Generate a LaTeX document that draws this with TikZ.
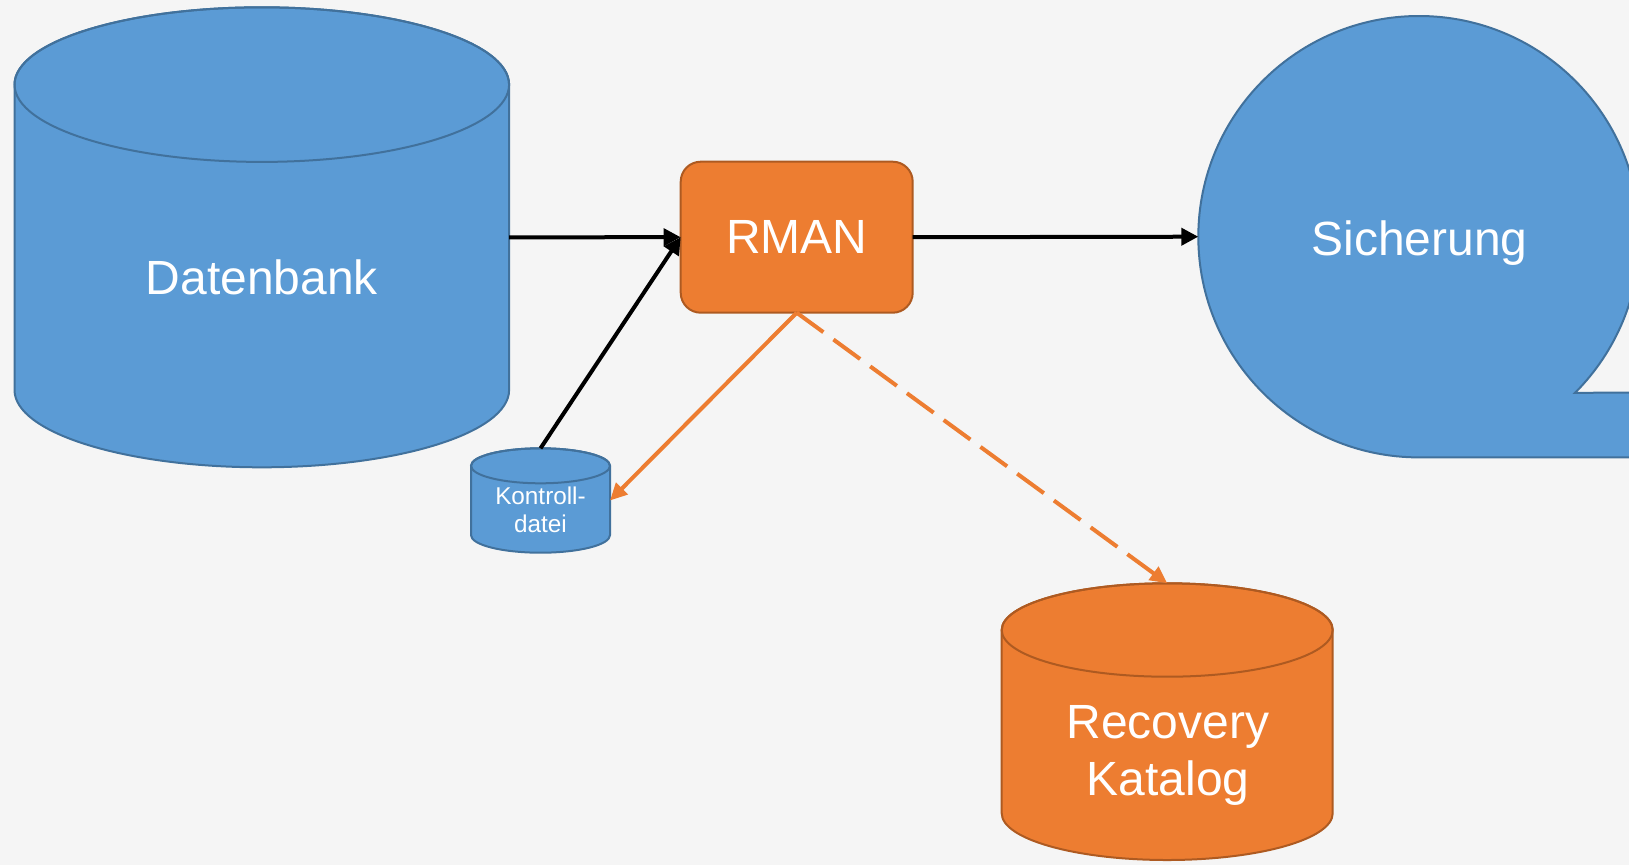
\documentclass[tikz,border=0pt]{standalone}
\usepackage{fontspec}
\setmainfont{Liberation Sans}
\usetikzlibrary{arrows.meta}
\definecolor{bgcol}{HTML}{F5F5F5}
\definecolor{dbblue}{HTML}{5B9BD5}
\definecolor{dbline}{HTML}{41719C}
\definecolor{rmorange}{HTML}{ED7D31}
\definecolor{rmline}{HTML}{AE5A21}
\newcommand{\mycyl}[6]{%
  \path[#6] (#1-#4,#3) arc[start angle=180,end angle=0,x radius=#4,y radius=#5]
     -- (#1+#4,#2) arc[start angle=0,end angle=-180,x radius=#4,y radius=#5] -- cycle;
  \draw[#6, fill=none] (#1,#2) ellipse[x radius=#4, y radius=#5];
}
\tikzset{
  bluefill/.style={fill=dbblue, draw=dbline, line width=2pt},
  orangefill/.style={fill=rmorange, draw=rmline, line width=2pt},
  anchorbox/.style={draw=none, fill=none, inner sep=0pt, outer sep=0pt},
  bigtext/.style={text=white, font=\fontsize{48}{57}\selectfont, anchor=base, inner sep=0pt},
  smalltext/.style={text=white, font=\fontsize{24.3}{29}\selectfont, anchor=base, inner sep=0pt},
  blackarrow/.style={draw=black, line width=4pt, -{Triangle[length=17pt,width=17pt]}},
  orangearrow/.style={draw=rmorange, line width=4pt, -{Triangle[length=17pt,width=16pt]}},
}
\begin{document}
\begin{tikzpicture}[x=1pt,y=-1pt]
\useasboundingbox (0,0) rectangle (1629,865);
\fill[bgcol] (0,0) rectangle (1629,865);
\clip (0,0) rectangle (1629,865);

% Datenbank cylinder
\mycyl{261.8}{84.6}{390}{247.3}{77.3}{bluefill}
\node[anchorbox, minimum width=494.6pt, minimum height=460pt] (db) at (261.8,237.3) {};
\node[bigtext] (dbtext) at (261.8,294) {Datenbank};

% Kontrolldatei cylinder
\mycyl{540.5}{465.8}{535.2}{69.5}{17.5}{bluefill}
\node[anchorbox, minimum width=139pt, minimum height=104.4pt] (kd) at (540.5,500.5) {};
\node[smalltext] (kdtext1) at (540.5,504) {Kontroll-};
\node[smalltext] (kdtext2) at (540.5,532.7) {datei};

% Recovery Katalog cylinder
\mycyl{1167.2}{630}{813.3}{165.5}{46.7}{orangefill}
\node[anchorbox, minimum width=331pt, minimum height=276.7pt] (rc) at (1167.2,721.6) {};
\node[bigtext] (rctext1) at (1168,738) {Recovery};
\node[bigtext] (rctext2) at (1168,795) {Katalog};

% Sicherung (magnetic tape)
\path[bluefill] (1419,457.4) arc[start angle=90, end angle=405, radius=220.7]
   -- (1639.7,392.7) -- (1639.7,457.4) -- cycle;
\node[anchorbox, circle, minimum size=441.4pt] (sich) at (1419,236.7) {};
\node[bigtext] (sichtext) at (1419.5,255) {Sicherung};

% RMAN
\node[orangefill, rounded corners=20pt, minimum width=232pt, minimum height=151pt,
      inner sep=0pt, outer sep=0pt, text=white, font=\fontsize{48}{57}\selectfont]
      (rman) at (796.7,237.2) {RMAN};

% connectors
\draw[blackarrow] (db.east) -- (rman.west);
\draw[blackarrow] (kd.north) -- (rman.west);
\draw[blackarrow] (rman.east) -- (sich.west);
\draw[orangearrow] (rman.south) -- (kd.east);
\draw[orangearrow, dash pattern=on 33pt off 12.5pt] (rman.south) -- (rc.north);
\end{tikzpicture}
\end{document}
